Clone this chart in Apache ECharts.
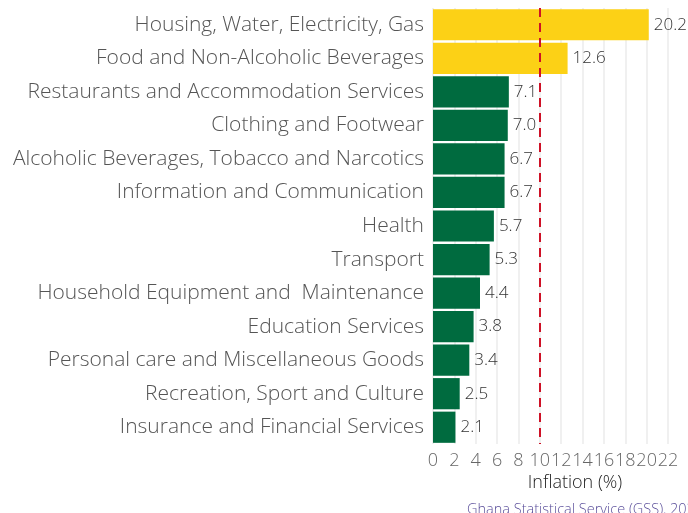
<!DOCTYPE html>
<html>
<head>
<meta charset="utf-8">
<script src="https://cdn.jsdelivr.net/npm/echarts@6/dist/echarts.min.js"></script>
<style>
* {margin: 0; padding: 0;}
#main {width: 688px; height: 513px;}
</style>
</head>
<body>
<div id="main"></div>
<script>
// CPI groups, top to bottom
const categories = [
    'Housing, Water, Electricity, Gas',
    'Food and Non-Alcoholic Beverages',
    'Restaurants and Accommodation Services',
    'Clothing and Footwear',
    'Alcoholic Beverages, Tobacco and Narcotics',
    'Information and Communication',
    'Health',
    'Transport',
    'Household Equipment and  Maintenance',
    'Education Services',
    'Personal care and Miscellaneous Goods',
    'Recreation, Sport and Culture',
    'Insurance and Financial Services'
];
const inflation = [20.2, 12.6, 7.1, 7.0, 6.7, 6.7, 5.7, 5.3, 4.4, 3.8, 3.4, 2.5, 2.1];
const xTicks = [0, 2, 4, 6, 8, 10, 12, 14, 16, 18, 20, 22];
const threshold = 10;

const GOLD = '#FCD116';
const GREEN = '#006B3F';
const FONT = 'Open Sans';

const chart = echarts.init(document.getElementById('main'));
chart.setOption({
    animation: false,
    grid: {left: 433, right: 20, top: 8, bottom: 69},
    xAxis: {
        type: 'value',
        min: 0,
        max: 22,
        interval: 2,
        axisLine: {show: false},
        axisTick: {show: false},
        splitLine: {lineStyle: {color: '#ebebeb', width: 1.5}},
        axisLabel: {
            color: '#666',
            fontFamily: FONT,
            fontWeight: 300,
            fontSize: 18,
            margin: 8,
            formatter: v => xTicks.includes(v) ? String(v) : ''
        }
    },
    yAxis: {
        type: 'category',
        inverse: true,
        data: categories,
        axisLine: {show: false},
        axisTick: {show: false},
        axisLabel: {
            color: '#555',
            fontFamily: FONT,
            fontWeight: 300,
            fontSize: 21,
            margin: 9
        }
    },
    title: [{
        text: 'Inflation (%)',
        left: 570,
        top: 469,
        textAlign: 'center',
        textStyle: {color: '#222', fontFamily: FONT, fontWeight: 300, fontSize: 18}
    }, {
        text: 'Ghana Statistical Service (GSS), 2024',
        left: 462,
        top: 497,
        textStyle: {color: '#5a4e9a', fontFamily: FONT, fontWeight: 300, fontSize: 14.5}
    }],
    series: [{
        type: 'bar',
        barCategoryGap: '7%',
        data: inflation.map((v, i) => ({
            value: v,
            itemStyle: {color: i < 2 ? GOLD : GREEN}
        })),
        label: {
            show: true,
            position: 'right',
            distance: 5,
            color: '#333',
            fontFamily: FONT,
            fontWeight: 300,
            fontSize: 17,
            formatter: p => p.value.toFixed(1)
        },
        markLine: {
            silent: true,
            symbol: 'none',
            label: {show: false},
            lineStyle: {color: '#CE1126', width: 2, type: [9, 6]},
            data: [{xAxis: threshold}]
        }
    }]
});
</script>
</body>
</html>
